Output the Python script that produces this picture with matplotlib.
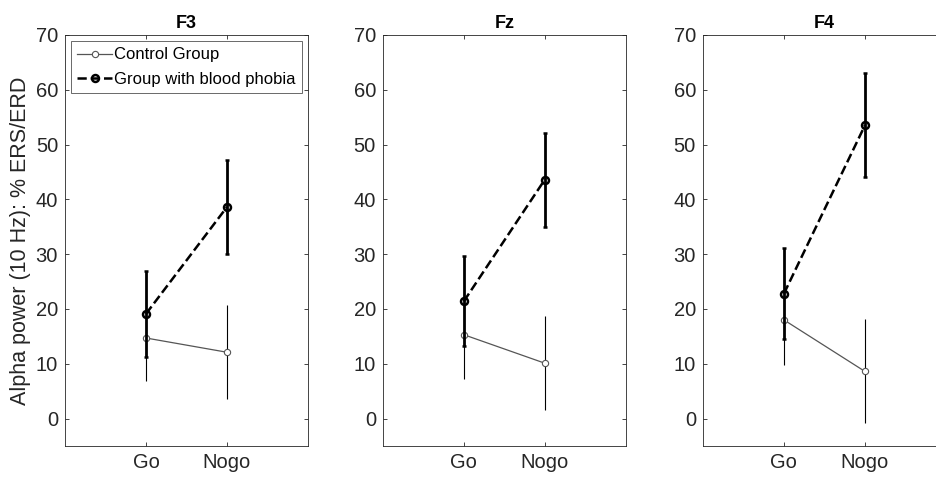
import matplotlib
matplotlib.use('Agg')
import matplotlib.pyplot as plt
from matplotlib.lines import Line2D

plt.rcParams['font.family'] = ['Liberation Sans', 'DejaVu Sans']

# Electrode sites and conditions
sites = ['F3', 'Fz', 'F4']
conditions = ['Go', 'Nogo']

# Control group means and error sizes per site
control_mean = [[14.7, 12.1], [15.3, 10.1], [18.0, 8.6]]
control_err = [[7.9, 8.6], [8.0, 8.6], [8.3, 9.5]]

# Blood phobia group means and error sizes per site
phobia_mean = [[19.1, 38.6], [21.4, 43.6], [22.8, 53.5]]
phobia_err = [[7.9, 8.6], [8.2, 8.6], [8.3, 9.5]]

yticks = [0, 10, 20, 30, 40, 50, 60, 70]

fig = plt.figure(figsize=(9.36, 4.79), dpi=100)
lefts = [0.0694, 0.409, 0.751]
axcol = '#262626'

ctrl_style = dict(color='#555555', lw=0.9, marker='o', ms=4.5,
                  mfc='white', mec='#555555', mew=0.8)
phob_style = dict(color='black', ls='--', lw=1.8, marker='o', ms=5,
                  mfc='none', mec='black', mew=1.8)

x = [1, 2]
for k, site in enumerate(sites):
    ax = fig.add_axes([lefts[k], 0.069, 0.2596, 0.858])

    ax.errorbar(x, control_mean[k], yerr=control_err[k], ecolor='black',
                elinewidth=0.8, capsize=0, zorder=2, **ctrl_style)
    ax.errorbar(x, phobia_mean[k], yerr=phobia_err[k], elinewidth=2,
                capsize=1.5, capthick=1.5, zorder=3, **phob_style)

    ax.set_xlim(0, 3)
    ax.set_ylim(-5, 70)
    ax.set_xticks(x)
    ax.set_xticklabels(conditions)
    ax.set_yticks(yticks)
    ax.tick_params(direction='in', top=True, right=True, labelsize=14.5,
                   colors=axcol, length=3, width=0.6, pad=5)
    for sp in ax.spines.values():
        sp.set_color(axcol)
        sp.set_linewidth(0.6)
    ax.set_title(site, fontsize=13, fontweight='bold', pad=5)

    if k == 0:
        ax.set_ylabel('Alpha power (10 Hz): % ERS/ERD', fontsize=15.5,
                      color=axcol, labelpad=3)
        handles = [Line2D([], [], **ctrl_style), Line2D([], [], **phob_style)]
        leg = ax.legend(handles, ['Control Group', 'Group with blood phobia'],
                        loc='upper left', fontsize=12, frameon=True,
                        fancybox=False, edgecolor=axcol, borderaxespad=0.35,
                        handlelength=2.1, handletextpad=0.1, labelspacing=0.55,
                        borderpad=0.4)
        leg.get_frame().set_linewidth(0.6)

plt.savefig('out.png', dpi=100)
